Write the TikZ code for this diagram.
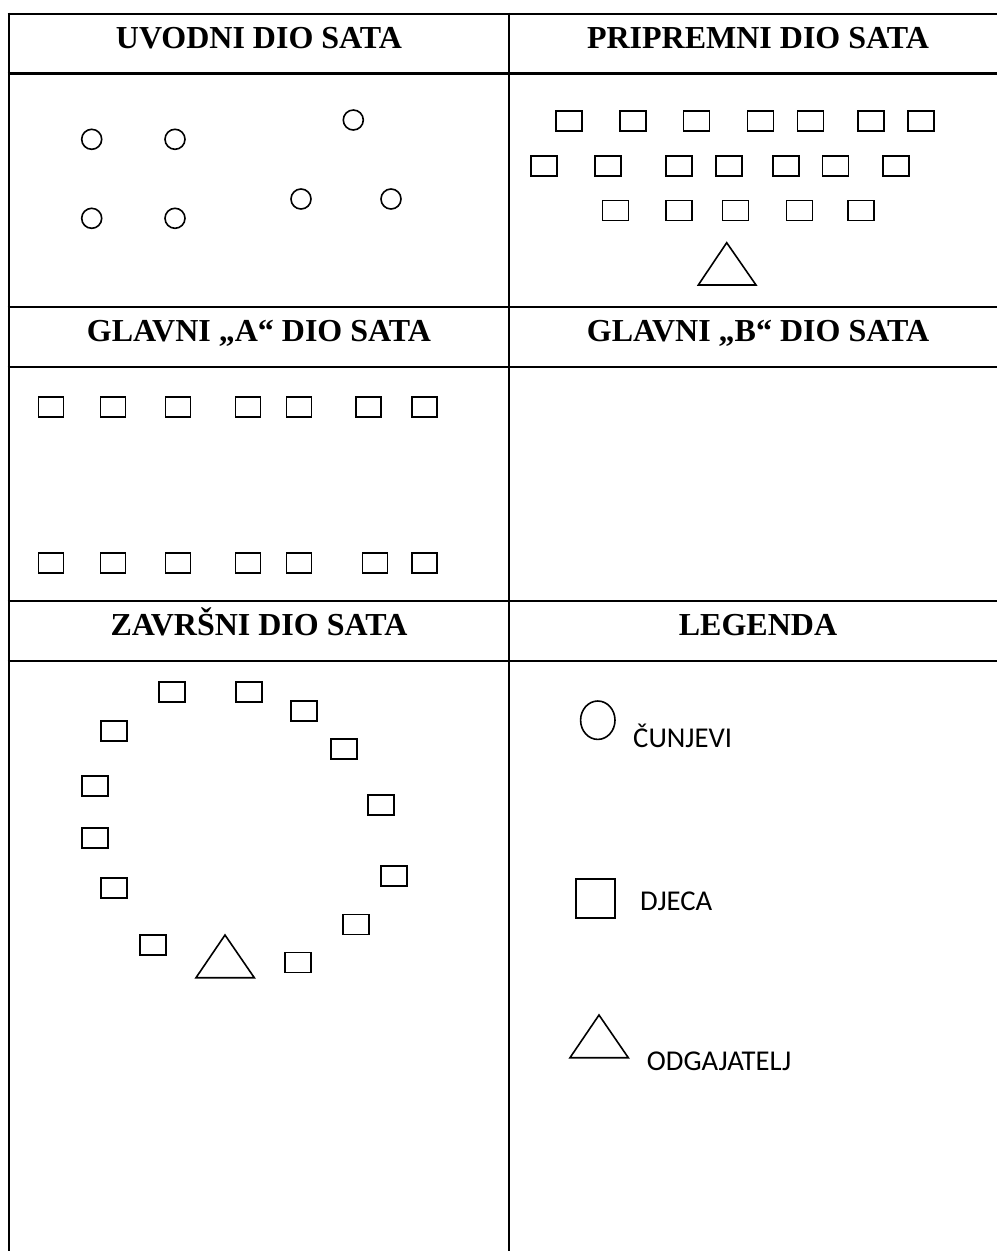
\documentclass[tikz,border=0pt]{standalone}
\usepackage{fontspec}
\setmainfont{Liberation Serif}
\newfontfamily\legfont{Carlito}
\begin{document}
\begin{tikzpicture}[x=1pt,y=-1pt,
  grid/.style={line width=2.6pt},
  head/.style={anchor=base,inner sep=0pt,font=\fontsize{32}{38}\selectfont\bfseries},
  kid/.style={draw,rectangle,line width=1.6pt,minimum width=26pt,minimum height=20pt,inner sep=0pt},
  cone/.style={draw,circle,line width=1.6pt,minimum size=20pt,inner sep=0pt},
  coach/.style={draw,line width=1.6pt,line join=miter},
  legtext/.style={anchor=base west,inner sep=0pt,font=\legfont\fontsize{28.7}{34}\selectfont}]
\useasboundingbox (0,0) rectangle (997,1251);
% table grid
\foreach \yy in {14,73.3,307,367,601,661}{\draw[grid] (7.7,\yy) -- (997,\yy);}
\draw[grid] (9,12.7) -- (9,1251);
\draw[grid] (509,12.7) -- (509,1251);
% headers
\node[head] (h1) at (259,48.3) {UVODNI DIO SATA};
\node[head] (h2) at (758,48.3) {PRIPREMNI DIO SATA};
\node[head] (h3) at (259,341.5) {GLAVNI „A“ DIO SATA};
\node[head] (h4) at (758,341.5) {GLAVNI „B“ DIO SATA};
\node[head] (h5) at (259,635.3) {ZAVRŠNI DIO SATA};
\node[head] (h6) at (758,635.3) {LEGENDA};
% uvodni: cones
\node[cone] (c1) at (91.7,139.3) {};
\node[cone] (c2) at (175,139.3) {};
\node[cone] (c3) at (353.3,120) {};
\node[cone] (c4) at (91.7,218.3) {};
\node[cone] (c5) at (175,218.3) {};
\node[cone] (c6) at (301,199) {};
\node[cone] (c7) at (391,199) {};
% pripremni: kids
\foreach \xx [count=\i] in {568.7,632.9,696.3,760.5,810.5,871.2,921.2}{\node[kid] (pa\i) at (\xx,120.7) {};}
\foreach \xx [count=\i] in {543.7,607.9,678.9,728.9,786.2,835.5,896.2}{\node[kid] (pb\i) at (\xx,165.7) {};}
\foreach \xx [count=\i] in {615.3,678.9,735.5,799.5,860.8}{\node[kid] (pc\i) at (\xx,210.4) {};}
\draw[coach] (698.3,285) -- (726.7,242.7) -- (756,285) -- cycle;
% glavni A
\foreach \xx [count=\i] in {51,113,178,248,299,368.5,424.5}{\node[kid,minimum width=25pt] (ga\i) at (\xx,407) {};}
\foreach \xx [count=\i] in {51,113,178,248,299,375,424.5}{\node[kid,minimum width=25pt] (gb\i) at (\xx,563) {};}
% zavrsni
\node[kid] (z1) at (172,691.7) {};
\node[kid] (z2) at (248.7,691.7) {};
\node[kid] (z3) at (304.2,711) {};
\node[kid] (z4) at (113.7,731) {};
\node[kid] (z5) at (344.2,749) {};
\node[kid] (z6) at (94.7,786) {};
\node[kid] (z7) at (380.9,805) {};
\node[kid] (z8) at (94.7,837.7) {};
\node[kid] (z9) at (394.2,876) {};
\node[kid] (z10) at (113.7,887.7) {};
\node[kid] (z11) at (355.9,924.3) {};
\node[kid] (z12) at (153,945) {};
\node[kid] (z13) at (298.2,962.3) {};
\draw[coach] (196,977.7) -- (225,935) -- (254.3,977.7) -- cycle;
% legend
\draw[line width=1.6pt] (597.8,720.2) ellipse [x radius=17.2, y radius=19.2];
\node[legtext] (l1) at (633,747) {ČUNJEVI};
\node[kid,minimum width=39pt,minimum height=38.7pt] (lk) at (595.5,898.4) {};
\node[legtext] (l2) at (640,910) {DJECA};
\draw[coach] (570,1057.7) -- (599,1015) -- (628.3,1057.7) -- cycle;
\node[legtext] (l3) at (646.7,1070) {ODGAJATELJ};
\end{tikzpicture}
\end{document}
